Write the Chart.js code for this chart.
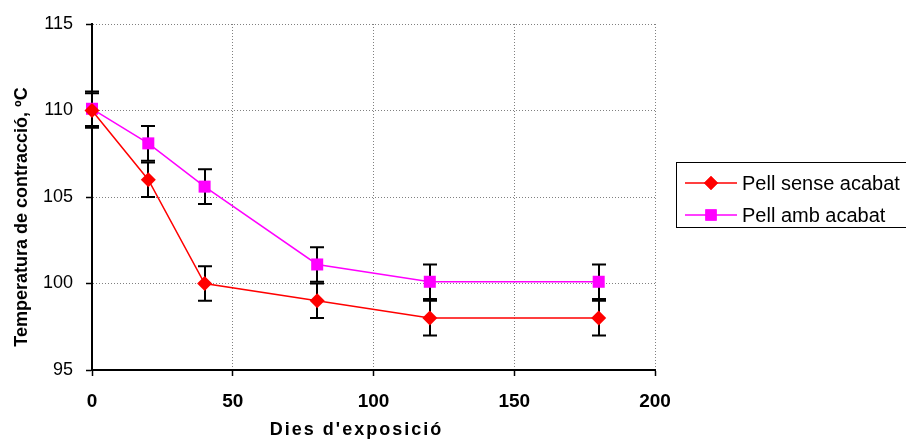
<!DOCTYPE html>
<html>
<head>
<meta charset="utf-8">
<script src="https://cdn.jsdelivr.net/npm/chart.js@4/dist/chart.umd.min.js"></script>
<style>
  html, body { margin: 0; padding: 0; background: #fff; }
  #wrap { width: 906px; height: 441px; position: relative; }
</style>
</head>
<body>
<div id="wrap"><canvas id="chart"></canvas></div>
<script>
  // Data
  const days = [0, 20, 40, 80, 120, 180];
  const senseAcabat = [110, 106, 100, 99, 98, 98];
  const ambAcabat = [110.1, 108.1, 105.6, 101.1, 100.1, 100.1];
  const errSense = [1, 1, 1, 1, 1, 1];
  const errAmb = [1, 1, 1, 1, 1, 1];
  const seriesNames = ['Pell sense acabat', 'Pell amb acabat'];
  const xTitle = "Dies d'exposició";
  const yTitle = 'Temperatura de contracció, ºC';

  const FONT = "'Liberation Sans', Arial, sans-serif";

  function points(ys) {
    return days.map(function (d, i) { return { x: d, y: ys[i] }; });
  }

  // Error bars, drawn under the markers
  const errorBars = {
    id: 'errorBars',
    beforeDatasetsDraw: function (chart) {
      const ctx = chart.ctx;
      const xs = chart.scales.x, ys = chart.scales.y;
      const sets = [[senseAcabat, errSense], [ambAcabat, errAmb]];
      ctx.save();
      ctx.strokeStyle = '#000';
      ctx.lineWidth = 2;
      sets.forEach(function (s) {
        s[0].forEach(function (v, i) {
          const px = Math.round(xs.getPixelForValue(days[i]));
          const top = ys.getPixelForValue(v + s[1][i]);
          const bot = ys.getPixelForValue(v - s[1][i]);
          ctx.beginPath();
          ctx.moveTo(px, top); ctx.lineTo(px, bot);
          ctx.moveTo(px - 7, top); ctx.lineTo(px + 7, top);
          ctx.moveTo(px - 7, bot); ctx.lineTo(px + 7, bot);
          ctx.stroke();
        });
      });
      ctx.restore();
    }
  };

  // Axis titles, placed as in the original
  const axisTitles = {
    id: 'axisTitles',
    afterDraw: function (chart) {
      const ctx = chart.ctx;
      const a = chart.chartArea;
      ctx.save();
      ctx.fillStyle = '#000';
      ctx.font = 'bold 18px ' + FONT;
      ctx.textAlign = 'center';
      ctx.textBaseline = 'alphabetic';
      ctx.letterSpacing = '2px';
      ctx.fillText(xTitle, (a.left + a.right) / 2 - 17, 435);
      ctx.letterSpacing = '0px';
      ctx.translate(27, (a.top + a.bottom) / 2 + 20);
      ctx.rotate(-Math.PI / 2);
      ctx.fillText(yTitle, 0, 0);
      ctx.restore();
    }
  };

  // Boxed legend to the right of the plot
  const boxLegend = {
    id: 'boxLegend',
    afterDraw: function (chart) {
      const ctx = chart.ctx;
      const x0 = 676, y0 = 162;
      ctx.save();
      ctx.strokeStyle = '#000';
      ctx.lineWidth = 1;
      ctx.strokeRect(x0 + 0.5, y0 + 0.5, 260, 65);
      ctx.font = '20px ' + FONT;
      ctx.textBaseline = 'middle';
      chart.data.datasets.forEach(function (ds, i) {
        const ly = y0 + 21 + i * 32;
        ctx.strokeStyle = ds.borderColor;
        ctx.lineWidth = 1.5;
        ctx.beginPath();
        ctx.moveTo(x0 + 9, ly); ctx.lineTo(x0 + 61, ly);
        ctx.stroke();
        ctx.fillStyle = ds.backgroundColor;
        Chart.helpers.drawPoint(ctx, { pointStyle: ds.pointStyle, radius: ds.pointRadius - 0.5, rotation: 0, borderWidth: 0 }, x0 + 35, ly);
        ctx.fill();
        ctx.fillStyle = '#000';
        ctx.fillText(ds.label, x0 + 66, ly + 1);
      });
      ctx.restore();
    }
  };

  new Chart(document.getElementById('chart'), {
    type: 'scatter',
    data: {
      datasets: [
        {
          label: seriesNames[0],
          data: points(senseAcabat),
          showLine: true,
          clip: false,
          borderColor: '#FF0000',
          backgroundColor: '#FF0000',
          borderWidth: 1.5,
          pointStyle: 'rectRot',
          pointRadius: 7.5,
          pointBorderWidth: 0
        },
        {
          label: seriesNames[1],
          data: points(ambAcabat),
          showLine: true,
          clip: false,
          borderColor: '#FF00FF',
          backgroundColor: '#FF00FF',
          borderWidth: 1.5,
          pointStyle: 'rect',
          pointRadius: 8.5,
          pointBorderWidth: 0
        }
      ]
    },
    options: {
      responsive: true,
      maintainAspectRatio: false,
      animation: false,
      layout: { padding: { left: 8, top: 24, right: 251, bottom: 0 } },
      plugins: {
        legend: { display: false },
        tooltip: { enabled: false }
      },
      scales: {
        x: {
          type: 'linear',
          min: 0,
          max: 200,
          afterFit: function (s) { s.height = 71; },
          ticks: { stepSize: 50, color: '#000', padding: 14, font: { family: FONT, size: 19, weight: 'bold' } },
          grid: { color: '#808080', lineWidth: 1, tickColor: '#000', tickLength: 6, tickWidth: 1.5 },
          border: { color: '#000', width: 2, dash: [1, 2] }
        },
        y: {
          min: 95,
          max: 115,
          afterFit: function (s) { s.width = 84; },
          ticks: { stepSize: 5, color: '#000', padding: 13, font: { family: FONT, size: 18 } },
          grid: { color: '#808080', lineWidth: 1, tickColor: '#000', tickLength: 6, tickWidth: 1.5 },
          border: { color: '#000', width: 2, dash: [1, 2] }
        }
      }
    },
    plugins: [errorBars, axisTitles, boxLegend]
  });
</script>
</body>
</html>
